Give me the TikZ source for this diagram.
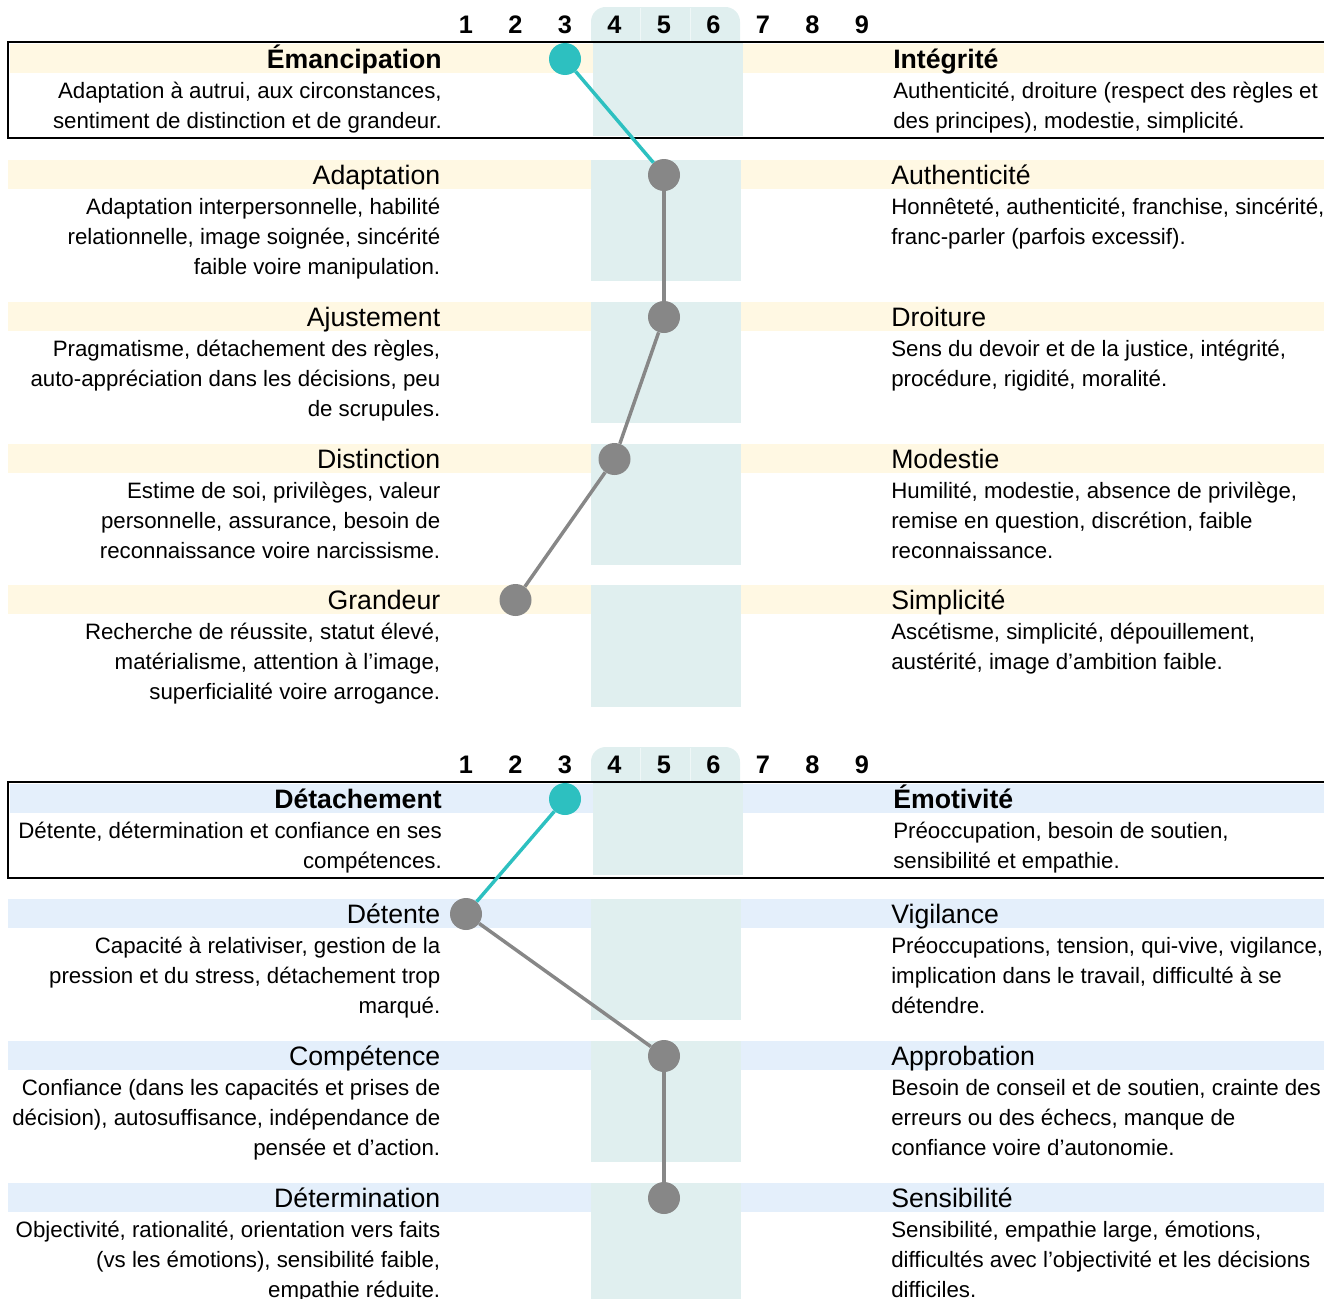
\documentclass[tikz,border=0pt]{standalone}
\usepackage{fontspec}
\setmainfont{Liberation Sans}
\definecolor{bandY}{HTML}{FFF8E3}
\definecolor{bandB}{HTML}{E4EFFB}
\definecolor{colfill}{HTML}{E0EFEF}
\definecolor{tealc}{HTML}{2DC0C0}
\definecolor{dotg}{HTML}{878787}
\tikzset{
 ttl/.style={inner sep=0pt, font=\fontsize{20}{24}\selectfont},
 ttlL/.style={ttl, anchor=base east},
 ttlR/.style={ttl, anchor=base west},
 dsc/.style={inner sep=0pt, font=\fontsize{16.7}{22.5}\selectfont},
 dscL/.style={dsc, anchor=north east, align=right},
 dscR/.style={dsc, anchor=north west, align=left},
 num/.style={anchor=base, inner sep=0pt, font=\fontsize{19}{22}\selectfont\bfseries},
 dot/.style={circle, fill=dotg, minimum size=24pt, inner sep=0pt},
 tdot/.style={dot, fill=tealc},
 glink/.style={draw=dotg, line width=2.6pt},
 tlink/.style={draw=tealc, line width=2.6pt},
 boxline/.style={line width=1.5pt, black},
 sep/.style={white, line width=0.5pt, opacity=0.5},
}
\begin{document}
\begin{tikzpicture}[x=0.75pt,y=-0.75pt]
\useasboundingbox (0,0) rectangle (1324,1299);
% ================= CHART 1 =================
\fill[colfill] (591,42) [rounded corners=11pt] -- (591,7) -- (740,7) [sharp corners] -- (740,42) -- cycle;
\draw[sep] (640,8) -- (640,42);
\draw[sep] (690,8) -- (690,42);
\fill[bandY] (10,44) rectangle (593,73);
\fill[bandY] (743,44) rectangle (1324,73);
\fill[colfill] (593,42) rectangle (743,136);
\foreach \t/\b in {160/281,302/423,444/565,585/707}{
  \fill[bandY] (8,\t) rectangle (591,\t+29);
  \fill[bandY] (741,\t) rectangle (1324,\t+29);
  \fill[colfill] (591,\t) rectangle (741,\b);
}
\draw[boxline] (1324,42) -- (8,42) -- (8,138) -- (1324,138);
\foreach \n in {1,...,9}{
  \node[num] (na\n) at ({466+(\n-1)*49.5},33) {\n};
}
\node[ttlL, font=\fontsize{20}{24}\selectfont\bfseries] (a0L) at (442,68) {Émancipation};
\node[dscL] (a0Ld) at (442,77) {\strut Adaptation à autrui, aux circonstances,\\sentiment de distinction et de grandeur.};
\node[ttlR, font=\fontsize{20}{24}\selectfont\bfseries] (a0R) at (893,68) {Intégrité};
\node[dscR] (a0Rd) at (893,77) {\strut Authenticité, droiture (respect des règles et\\des principes), modestie, simplicité.};

\node[ttlL] (a1L) at (440.5,184) {Adaptation};
\node[dscL] (a1Ld) at (440.5,193) {\strut Adaptation interpersonnelle, habilité\\relationnelle, image soignée, sincérité\\faible voire manipulation.};
\node[ttlR] (a1R) at (891,184) {Authenticité};
\node[dscR] (a1Rd) at (891,193) {\strut Honnêteté, authenticité, franchise, sincérité,\\franc-parler (parfois excessif).};

\node[ttlL] (a2L) at (440.5,326) {Ajustement};
\node[dscL] (a2Ld) at (440.5,335) {\strut Pragmatisme, détachement des règles,\\auto-appréciation dans les décisions, peu\\de scrupules.};
\node[ttlR] (a2R) at (891,326) {Droiture};
\node[dscR] (a2Rd) at (891,335) {\strut Sens du devoir et de la justice, intégrité,\\procédure, rigidité, moralité.};

\node[ttlL] (a3L) at (440.5,468) {Distinction};
\node[dscL] (a3Ld) at (440.5,477) {\strut Estime de soi, privilèges, valeur\\personnelle, assurance, besoin de\\reconnaissance voire narcissisme.};
\node[ttlR] (a3R) at (891,468) {Modestie};
\node[dscR] (a3Rd) at (891,477) {\strut Humilité, modestie, absence de privilège,\\remise en question, discrétion, faible\\reconnaissance.};

\node[ttlL] (a4L) at (440.5,609) {Grandeur};
\node[dscL] (a4Ld) at (440.5,618) {\strut Recherche de réussite, statut élevé,\\matérialisme, attention à l’image,\\superficialité voire arrogance.};
\node[ttlR] (a4R) at (891,609) {Simplicité};
\node[dscR] (a4Rd) at (891,618) {\strut Ascétisme, simplicité, dépouillement,\\austérité, image d’ambition faible.};

\node[tdot] (da0) at (565,59) {};
\node[dot] (da1) at (664,175) {};
\node[dot] (da2) at (664,317) {};
\node[dot] (da3) at (614.5,459) {};
\node[dot] (da4) at (515.5,600) {};
\draw[tlink] (da0) -- (da1);
\draw[glink] (da1) -- (da2);
\draw[glink] (da2) -- (da3);
\draw[glink] (da3) -- (da4);

% ================= CHART 2 =================
\fill[colfill] (591,782) [rounded corners=11pt] -- (591,747) -- (740,747) [sharp corners] -- (740,782) -- cycle;
\draw[sep] (640,748) -- (640,782);
\draw[sep] (690,748) -- (690,782);
\fill[bandB] (10,784) rectangle (593,813);
\fill[bandB] (743,784) rectangle (1324,813);
\fill[colfill] (593,782) rectangle (743,875);
\foreach \t/\b in {899/1020,1041/1162,1183/1299}{
  \fill[bandB] (8,\t) rectangle (591,\t+29);
  \fill[bandB] (741,\t) rectangle (1324,\t+29);
  \fill[colfill] (591,\t) rectangle (741,\b);
}
\draw[boxline] (1324,782) -- (8,782) -- (8,878) -- (1324,878);
\foreach \n in {1,...,9}{
  \node[num] (nb\n) at ({466+(\n-1)*49.5},773) {\n};
}
\node[ttlL, font=\fontsize{20}{24}\selectfont\bfseries] (b0L) at (442,808) {Détachement};
\node[dscL] (b0Ld) at (442,817) {\strut Détente, détermination et confiance en ses\\compétences.};
\node[ttlR, font=\fontsize{20}{24}\selectfont\bfseries] (b0R) at (893,808) {Émotivité};
\node[dscR] (b0Rd) at (893,817) {\strut Préoccupation, besoin de soutien,\\sensibilité et empathie.};

\node[ttlL] (b1L) at (440.5,923) {Détente};
\node[dscL] (b1Ld) at (440.5,932) {\strut Capacité à relativiser, gestion de la\\pression et du stress, détachement trop\\marqué.};
\node[ttlR] (b1R) at (891,923) {Vigilance};
\node[dscR] (b1Rd) at (891,932) {\strut Préoccupations, tension, qui-vive, vigilance,\\implication dans le travail, difficulté à se\\détendre.};

\node[ttlL] (b2L) at (440.5,1065) {Compétence};
\node[dscL] (b2Ld) at (440.5,1074) {\strut Confiance (dans les capacités et prises de\\décision), autosuffisance, indépendance de\\pensée et d’action.};
\node[ttlR] (b2R) at (891,1065) {Approbation};
\node[dscR] (b2Rd) at (891,1074) {\strut Besoin de conseil et de soutien, crainte des\\erreurs ou des échecs, manque de\\confiance voire d’autonomie.};

\node[ttlL] (b3L) at (440.5,1207) {Détermination};
\node[dscL] (b3Ld) at (440.5,1216) {\strut Objectivité, rationalité, orientation vers faits\\(vs les émotions), sensibilité faible,\\empathie réduite.};
\node[ttlR] (b3R) at (891,1207) {Sensibilité};
\node[dscR] (b3Rd) at (891,1216) {\strut Sensibilité, empathie large, émotions,\\difficultés avec l’objectivité et les décisions\\difficiles.};

\node[tdot] (db0) at (565,799) {};
\node[dot] (db1) at (466,914) {};
\node[dot] (db2) at (664,1056) {};
\node[dot] (db3) at (664,1198) {};
\draw[tlink] (db0) -- (db1);
\draw[glink] (db1) -- (db2);
\draw[glink] (db2) -- (db3);
\end{tikzpicture}
\end{document}
